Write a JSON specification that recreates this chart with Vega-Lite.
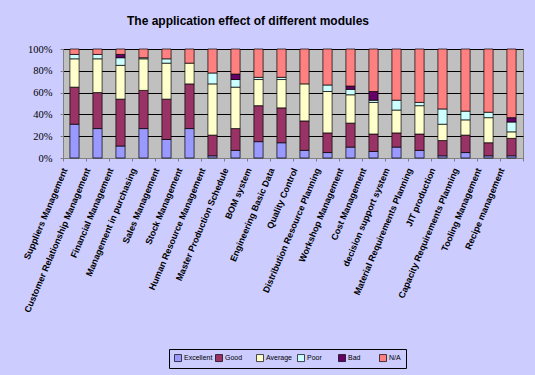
{
  "$schema": "https://vega.github.io/schema/vega-lite/v6.json",
  "width": 460,
  "height": 109,
  "autosize": "none",
  "padding": {"left": 63, "top": 49, "right": 12, "bottom": 217},
  "background": "#ccccff",
  "title": {
    "text": "The application effect of different modules",
    "font": "Liberation Sans",
    "fontSize": 12,
    "fontWeight": "bold",
    "color": "#000000",
    "anchor": "middle",
    "dx": -45,
    "offset": 16
  },
  "datasets": {
    "ratings": [
      {"rating": "Excellent", "rank": 1},
      {"rating": "Good", "rank": 2},
      {"rating": "Average", "rank": 3},
      {"rating": "Poor", "rank": 4},
      {"rating": "Bad", "rank": 5},
      {"rating": "N/A", "rank": 6}
    ]
  },
  "data": {
    "values": [
      {"module": "Suppliers Management", "Excellent": 31, "Good": 34, "Average": 26, "Poor": 4, "Bad": 0, "N/A": 5},
      {"module": "Customer Relationship Management", "Excellent": 27, "Good": 33, "Average": 31, "Poor": 4, "Bad": 0, "N/A": 5},
      {"module": "Financial Management", "Excellent": 11, "Good": 43, "Average": 31, "Poor": 7, "Bad": 3, "N/A": 5},
      {"module": "Management in purchasing", "Excellent": 27, "Good": 35, "Average": 29, "Poor": 1, "Bad": 0, "N/A": 8},
      {"module": "Sales Management", "Excellent": 17, "Good": 37, "Average": 33, "Poor": 4, "Bad": 0, "N/A": 9},
      {"module": "Stock Management", "Excellent": 27, "Good": 41, "Average": 19, "Poor": 0, "Bad": 0, "N/A": 13},
      {"module": "Human Resource Management", "Excellent": 2, "Good": 19, "Average": 47, "Poor": 10, "Bad": 0, "N/A": 22},
      {"module": "Master Production Schedule", "Excellent": 7, "Good": 20, "Average": 38, "Poor": 7, "Bad": 5, "N/A": 23},
      {"module": "BOM system", "Excellent": 15, "Good": 33, "Average": 24, "Poor": 2, "Bad": 0, "N/A": 26},
      {"module": "Engineering Basic Data", "Excellent": 14, "Good": 32, "Average": 26, "Poor": 2, "Bad": 0, "N/A": 26},
      {"module": "Quality Control", "Excellent": 7, "Good": 27, "Average": 34, "Poor": 0, "Bad": 0, "N/A": 32},
      {"module": "Distribution Resource Planning", "Excellent": 5, "Good": 18, "Average": 38, "Poor": 6, "Bad": 0, "N/A": 33},
      {"module": "Workshop Management", "Excellent": 10, "Good": 22, "Average": 26, "Poor": 5, "Bad": 3, "N/A": 34},
      {"module": "Cost Management", "Excellent": 6, "Good": 16, "Average": 29, "Poor": 2, "Bad": 8, "N/A": 39},
      {"module": "decision support system", "Excellent": 10, "Good": 13, "Average": 21, "Poor": 9, "Bad": 0, "N/A": 47},
      {"module": "Material Requirements Planning", "Excellent": 7, "Good": 15, "Average": 26, "Poor": 3, "Bad": 0, "N/A": 49},
      {"module": "JIT production", "Excellent": 2, "Good": 14, "Average": 15, "Poor": 14, "Bad": 0, "N/A": 55},
      {"module": "Capacity Requirements Planning", "Excellent": 5, "Good": 16, "Average": 14, "Poor": 8, "Bad": 0, "N/A": 57},
      {"module": "Tooling Management", "Excellent": 2, "Good": 12, "Average": 23, "Poor": 5, "Bad": 0, "N/A": 58},
      {"module": "Recipe management", "Excellent": 2, "Good": 16, "Average": 6, "Poor": 9, "Bad": 4, "N/A": 63}
    ]
  },
  "transform": [
    {"fold": ["Excellent", "Good", "Average", "Poor", "Bad", "N/A"], "as": ["rating", "pct"]},
    {"filter": "datum.pct > 0"},
    {"lookup": "rating", "from": {"data": {"name": "ratings"}, "key": "rating", "fields": ["rank"]}}
  ],
  "mark": {"type": "bar", "stroke": "#000000", "strokeWidth": 0.7, "width": {"band": 0.4}},
  "encoding": {
    "x": {
      "field": "module",
      "type": "nominal",
      "sort": null,
      "scale": {"paddingInner": 0, "paddingOuter": 0},
      "axis": {
        "title": null,
        "labelAngle": -67,
        "labelAlign": "right",
        "labelBaseline": "middle",
        "labelFont": "Liberation Sans",
        "labelFontSize": 9,
        "labelFontWeight": "bold",
        "labelColor": "#000000",
        "labelPadding": 7,
        "labelOffset": -10,
        "labelLimit": 0,
        "tickBand": "extent",
        "tickSize": 3,
        "tickColor": "#808080",
        "domainColor": "#808080"
      }
    },
    "y": {
      "field": "pct",
      "type": "quantitative",
      "stack": "normalize",
      "axis": {
        "title": null,
        "values": [0, 0.2, 0.4, 0.6, 0.8, 1],
        "format": ".0%",
        "labelFont": "Liberation Serif",
        "labelFontSize": 10.5,
        "labelColor": "#000000",
        "labelPadding": 8,
        "gridColor": "#000000",
        "gridWidth": 1,
        "tickColor": "#808080",
        "tickSize": 3,
        "domainColor": "#808080"
      }
    },
    "color": {
      "field": "rating",
      "type": "nominal",
      "sort": ["Excellent", "Good", "Average", "Poor", "Bad", "N/A"],
      "scale": {
        "domain": ["Excellent", "Good", "Average", "Poor", "Bad", "N/A"],
        "range": ["#9999ff", "#993366", "#ffffcc", "#ccffff", "#660066", "#ff8080"]
      },
      "legend": {
        "title": null,
        "orient": "none",
        "direction": "horizontal",
        "legendX": 106,
        "legendY": 300,
        "symbolType": "square",
        "symbolSize": 49,
        "symbolStrokeColor": "#000000",
        "symbolStrokeWidth": 0.7,
        "symbolOpacity": 1,
        "labelFont": "Liberation Sans",
        "labelFontSize": 7,
        "labelColor": "#000000",
        "labelOffset": 2,
        "gridAlign": "all",
        "columnPadding": 1,
        "fillColor": "#ccccff",
        "strokeColor": "#000000",
        "padding": 5
      }
    },
    "order": {"field": "rank", "type": "quantitative", "sort": "ascending"}
  },
  "config": {
    "view": {"fill": "#c0c0c0", "stroke": "#808080"}
  }
}
